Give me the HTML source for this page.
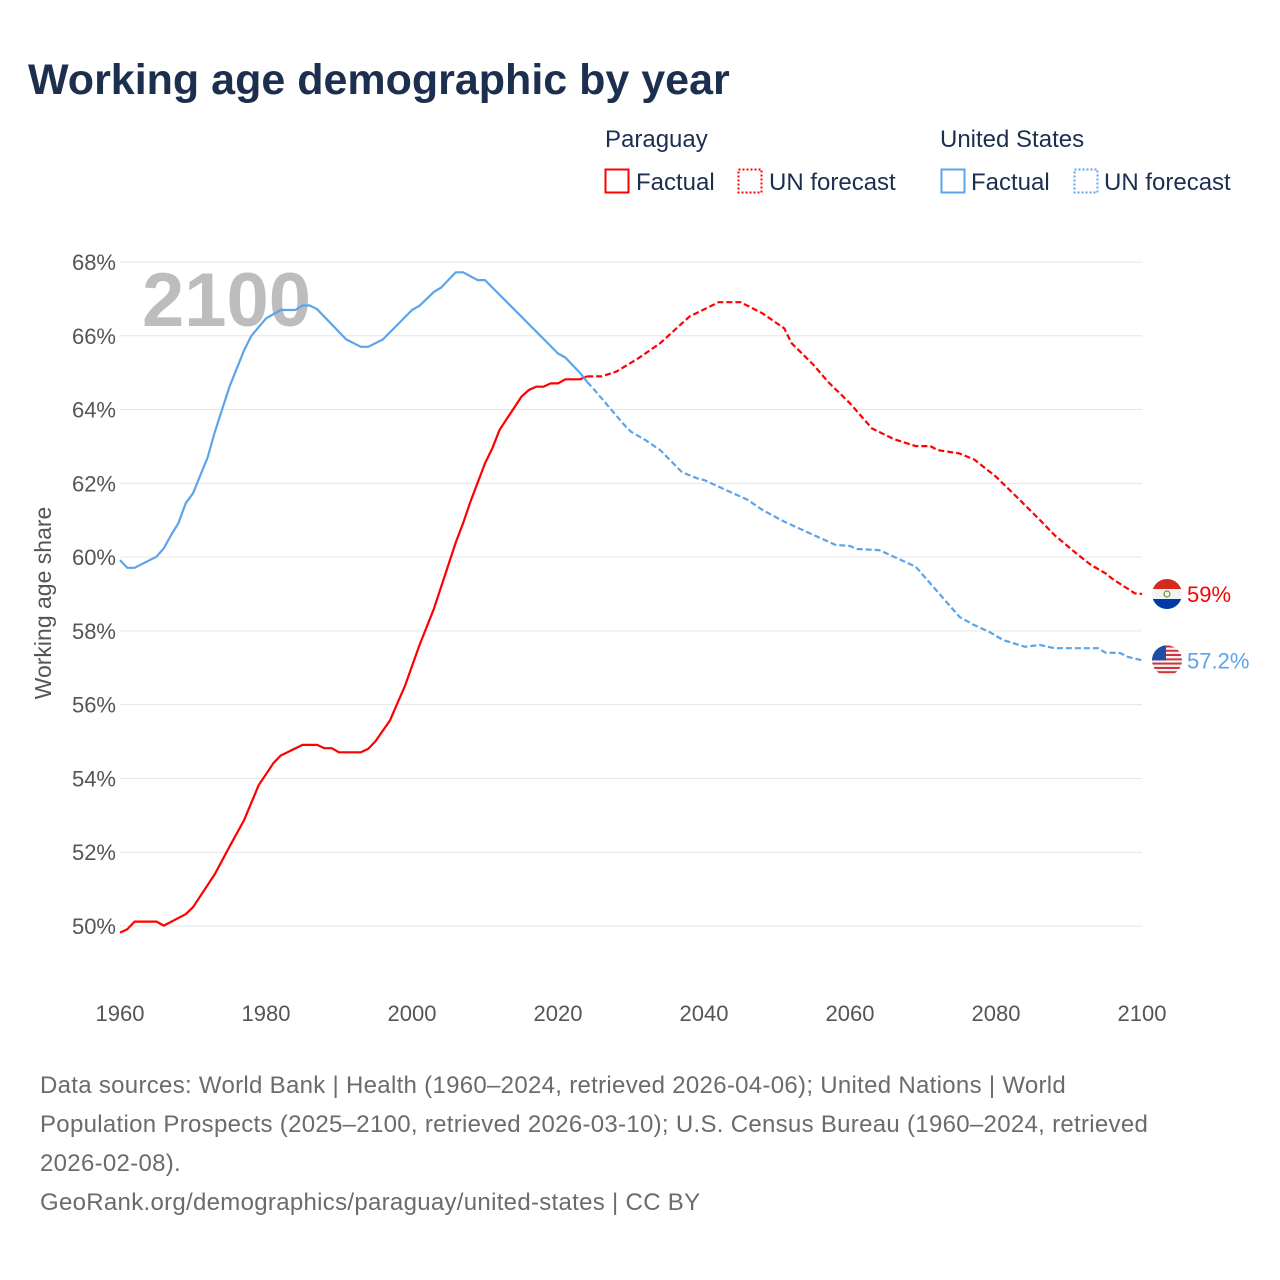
<!DOCTYPE html>
<html><head><meta charset="utf-8">
<style>
body{margin:0;background:#fff;width:1280px;height:1280px;overflow:hidden;font-family:"Liberation Sans",sans-serif}
svg{position:absolute;left:0;top:0}
.foot{position:absolute;left:40px;top:1066px;width:1220px;font-size:24px;line-height:39px;color:#6b6b6b;white-space:nowrap;letter-spacing:0.3px}
</style></head><body>
<svg id="chart" width="1280" height="1280">
<text x="28" y="94" font-size="43" font-weight="bold" fill="#1c2f4e">Working age demographic by year</text>
<g font-size="24" fill="#1c2f4e">
<text x="605" y="147">Paraguay</text>
<g><rect x="605.5" y="169.5" width="23" height="23" fill="none" stroke="#ff0000" stroke-width="2"/><text x="636" y="190">Factual</text></g>
<g><rect x="738.5" y="169.5" width="23" height="23" fill="none" stroke="#ff0000" stroke-width="2" stroke-dasharray="2,2"/><text x="769" y="190">UN forecast</text></g>
<text x="940" y="147">United States</text>
<g><rect x="941.5" y="169.5" width="23" height="23" fill="none" stroke="#5ba4ea" stroke-width="2"/><text x="971" y="190">Factual</text></g>
<g><rect x="1074.5" y="169.5" width="23" height="23" fill="none" stroke="#5ba4ea" stroke-width="2" stroke-dasharray="2,2"/><text x="1104" y="190">UN forecast</text></g>
</g>
<g id="grid"></g>
<text x="142" y="326" font-size="76" font-weight="bold" fill="#bdbdbd">2100</text>
<text transform="translate(51,603) rotate(-90)" text-anchor="middle" font-size="23" fill="#555">Working age share</text>
<g id="series"></g>
</svg>
<div class="foot">Data sources: World Bank | Health (1960–2024, retrieved 2026-04-06); United Nations | World<br>Population Prospects (2025–2100, retrieved 2026-03-10); U.S. Census Bureau (1960–2024, retrieved<br>2026-02-08).<br><span>GeoRank.org/demographics/paraguay/united-states | CC BY</span></div>
<script>
const yTicks=[50,52,54,56,58,60,62,64,66,68];
const xTicks=[1960,1980,2000,2020,2040,2060,2080,2100];
const pyFactYears=[1960,1961,1962,1965,1966,1969,1970,1973,1975,1977,1979,1981,1982,1985,1987,1988,1989,1990,1993,1994,1995,1997,1998,1999,2001,2003,2004,2006,2007,2008,2010,2011,2012,2015,2016,2017,2018,2019,2020,2021,2023,2024];
const pyFactVals=[49.82,49.91,50.12,50.12,50.01,50.32,50.51,51.41,52.15,52.87,53.82,54.41,54.62,54.91,54.91,54.82,54.82,54.71,54.71,54.80,55.01,55.58,56.04,56.49,57.6,58.6,59.2,60.4,60.92,61.5,62.54,62.95,63.45,64.35,64.53,64.62,64.62,64.71,64.71,64.82,64.82,64.9];
const pyFcYears=[2024,2026,2028,2031,2034,2036,2038,2042,2045,2048,2051,2052,2055,2057,2060,2063,2066,2069,2071,2072,2075,2077,2080,2083,2086,2088,2091,2093,2095,2096,2098,2099,2100];
const pyFcVals=[64.9,64.9,65.03,65.39,65.8,66.16,66.52,66.91,66.91,66.61,66.2,65.8,65.21,64.75,64.17,63.49,63.2,63.01,63.01,62.9,62.81,62.65,62.18,61.6,61.01,60.6,60.1,59.79,59.56,59.4,59.15,59.02,59.0];
const usFactYears=[1960,1961,1962,1965,1966,1967,1968,1969,1970,1972,1973,1975,1977,1978,1980,1982,1984,1985,1986,1987,1991,1993,1994,1996,2000,2001,2003,2004,2006,2007,2009,2010,2020,2021,2023,2024];
const usFactVals=[59.92,59.71,59.71,60.01,60.24,60.6,60.92,61.46,61.73,62.7,63.4,64.62,65.61,66.0,66.47,66.7,66.7,66.82,66.82,66.72,65.9,65.7,65.7,65.9,66.7,66.81,67.19,67.31,67.72,67.72,67.51,67.51,65.52,65.41,65.0,64.75];
const usFcYears=[2024,2025,2029,2030,2032,2034,2037,2039,2040,2044,2046,2048,2051,2052,2058,2060,2061,2064,2069,2075,2077,2079,2081,2084,2086,2088,2094,2095,2097,2098,2100];
const usFcVals=[64.75,64.53,63.6,63.4,63.17,62.9,62.3,62.14,62.09,61.73,61.55,61.28,60.96,60.87,60.33,60.3,60.22,60.19,59.74,58.38,58.16,57.98,57.75,57.57,57.62,57.53,57.53,57.41,57.4,57.3,57.2];
const NS='http://www.w3.org/2000/svg';
function xs(y){return 120+(y-1960)*(1022/140);}
function ys(v){return 926-(v-50)*(664/18);}
function mk(tag,attrs,parent){const e=document.createElementNS(NS,tag);for(const k in attrs)e.setAttribute(k,attrs[k]);parent.appendChild(e);return e;}
const grid=document.getElementById('grid');
yTicks.forEach(v=>{
 const l=mk('line',{x1:120,x2:1142,y1:ys(v),y2:ys(v),stroke:'#e6e6e6','stroke-width':1},grid);
 
 
 const t=mk('text',{x:116,y:ys(v)+8,'text-anchor':'end','font-size':22,fill:'#555'},grid);
 t.textContent=v+'%';
 
 
});
xTicks.forEach(y=>{
 const t=mk('text',{x:xs(y),y:1021,'text-anchor':'middle','font-size':22,fill:'#555'},grid);
 t.textContent=y;
 
 
});
const ser=document.getElementById('series');
function line(years,vals,color,dash,name){
 const d=years.map((y,i)=>(i?'L':'M')+xs(y).toFixed(1)+','+ys(vals[i]).toFixed(1)).join('');
 const p=mk('path',{d:d,fill:'none',stroke:color,'stroke-width':2.2,'stroke-linejoin':'round'},ser);
 if(dash)p.setAttribute('stroke-dasharray',dash);
 
 
}
line(usFcYears,usFcVals,'#5ba4ea','6,3','us-forecast-line');
line(pyFcYears,pyFcVals,'#ff0000','6,3','paraguay-forecast-line');
line(pyFactYears,pyFactVals,'#ff0000',null,'paraguay-factual-line');
line(usFactYears,usFactVals,'#5ba4ea',null,'us-factual-line');
const pyEnd=pyFcVals[pyFcVals.length-1], usEnd=usFcVals[usFcVals.length-1];
const fx=1167;
const g1=mk('g',{},ser);


const py=ys(pyEnd);
const cp1=mk('clipPath',{id:'c1'},g1);mk('circle',{cx:fx,cy:py,r:15},cp1);
mk('rect',{x:fx-15,y:py-15,width:30,height:10,fill:'#d52b1e','clip-path':'url(#c1)'},g1);
mk('rect',{x:fx-15,y:py-5,width:30,height:10,fill:'#f2f2f2','clip-path':'url(#c1)'},g1);
mk('rect',{x:fx-15,y:py+5,width:30,height:10,fill:'#0038a8','clip-path':'url(#c1)'},g1);
mk('circle',{cx:fx,cy:py,r:3,fill:'none',stroke:'#6a9a3a','stroke-width':1.2},g1);
const t1=mk('text',{x:1187,y:py+8,'font-size':22,fill:'#ff0000'},ser);
t1.textContent=pyEnd+'%';


const g2=mk('g',{},ser);


const uy=ys(usEnd);
const cp=mk('clipPath',{id:'c2'},g2);mk('circle',{cx:fx,cy:uy,r:15},cp);
for(let i=0;i<7;i++)mk('rect',{x:fx-15,y:uy-15+i*30/7,width:30,height:30/14,fill:'#d22f3c','clip-path':'url(#c2)'},g2);
for(let i=0;i<7;i++)mk('rect',{x:fx-15,y:uy-15+i*30/7+30/14,width:30,height:30/14,fill:'#f4f4f4','clip-path':'url(#c2)'},g2);
mk('rect',{x:fx-15,y:uy-15,width:14,height:15,fill:'#1f4ea8','clip-path':'url(#c2)'},g2);
const t2=mk('text',{x:1187,y:uy+8,'font-size':22,fill:'#5ba4ea'},ser);
t2.textContent=usEnd+'%';


</script>
</body></html>
